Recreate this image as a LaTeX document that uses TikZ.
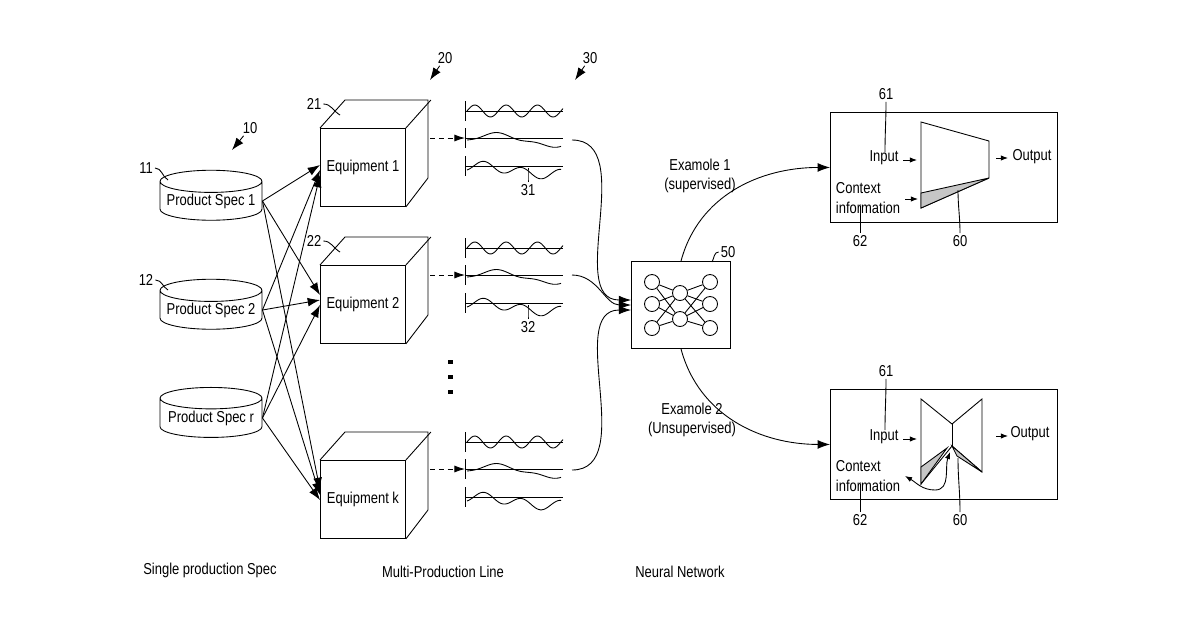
\documentclass[tikz,border=0pt]{standalone}
\usepackage{fontspec}
\setmainfont{Liberation Sans}[FakeStretch=0.82]
\usetikzlibrary{arrows.meta,shapes.geometric}
\begin{document}
\begin{tikzpicture}[x=0.02cm,y=-0.02cm,font=\small,
  line width=0.5pt,
  arr/.style={-{Latex[length=7pt,width=5pt]}},
  darr/.style={densely dashed,-{Latex[length=6pt,width=4pt]}},
  sarr/.style={-{Latex[length=4pt,width=3pt]}},
  lbl/.style={inner sep=1pt},
  cyl/.style={cylinder,shape border rotate=90,draw,aspect=0.25,minimum width=102*0.02cm,minimum height=50*0.02cm,inner sep=0pt},
  neu/.style={circle,draw,minimum size=15*0.02cm,inner sep=0pt},
  shade/.style={fill=gray!45}]
\useasboundingbox (0,0) rectangle (1200,630);
% cylinders
\node[cyl] (s1) at (211,201) {Product Spec 1};
\node[cyl] (s2) at (211,310) {Product Spec 2};
\node[cyl] (s3) at (211,418) {Product Spec r};
\node[lbl] (l11) at (146,168) {11};
\node[lbl] (l12) at (146,280) {12};
\node[lbl] (l10) at (250,128) {10};
\coordinate (a10) at (232,150);
\draw[arr] (l10) -- (a10);
\draw (l11.east) to[out=0,in=150] (168,180);
\draw (l12.east) to[out=0,in=150] (168,290);
% cubes
\foreach \n/\t/\y in {e1/Equipment 1/128, e2/Equipment 2/265, ek/Equipment k/460}{
  \node[draw,minimum width=85*0.02cm,minimum height=78*0.02cm,anchor=north west,inner sep=0pt] (\n) at (320,\y) {\t};
  \draw (\n.north west) -- ++(25,-28) -- ++(83,0) -- ++(0,78) -- (\n.south east);
  \draw (\n.north east) -- ++(25,-28);
}
\node[lbl] (l21) at (314,104) {21};
\node[lbl] (l22) at (314,241) {22};
\draw (l21.east) to[out=0,in=150] (340,115);
\draw (l22.east) to[out=0,in=150] (340,252);
\node[lbl] (l20) at (445,58) {20};
\coordinate (a20) at (430,80);
\draw[arr] (l20) -- (a20);
\node[lbl] (l30) at (590,58) {30};
\coordinate (a30) at (575,80);
\draw[arr] (l30) -- (a30);
\foreach \yy in {360,375,390} \fill (448,\yy) rectangle (453,\yy+4);
% spec -> equipment arrows
\foreach \s/\o in {s1/0,s2/1,s3/2}{
  \foreach \e/\ey in {e1/170,e2/300,ek/495}{
    \coordinate (t) at (320,\ey+\o*5-5);
    \draw[arr] (\s.east) -- (t);
  }
}
% waveforms
\foreach \g/\b in {1/111,2/248,3/442}{
  \coordinate (w\g a) at (465,\b);
  \coordinate (w\g b) at (465,\b+27);
  \coordinate (w\g c) at (465,\b+55);
  \foreach \k in {0,27,55} {\draw (465,\b+\k-10) -- (465,\b+\k+10); \draw (465,\b+\k) -- (563,\b+\k);}
  \draw[smooth,domain=0:96,samples=60] plot ({467+\x},{\b-6*sin(\x*11.5)});
  \draw[smooth,domain=0:94,samples=60] plot ({467+\x},{\b+27+2-6*sin(\x*3.2)+1.5*sin(\x*9)});
  \draw[smooth,domain=0:94,samples=60] plot ({467+\x},{\b+55+4-9*sin(\x*3.5+20)*sin(\x*6)});
}
\coordinate (d1) at (430,138); \coordinate (d2) at (430,275); \coordinate (d3) at (430,469);
\draw[darr] (d1) -- (w1b);
\draw[darr] (d2) -- (w2b);
\draw[darr] (d3) -- (w3b);
\node[lbl] (l31) at (528,190) {31};
\node[lbl] (l32) at (528,327) {32};
\draw (l31.north) to[out=90,in=-90] (528,168);
\draw (l32.north) to[out=90,in=-90] (528,305);
% NN
\node[draw,minimum width=99*0.02cm,minimum height=87*0.02cm,inner sep=0pt] (nn) at (681,305) {};
\foreach \i/\y in {1/282,2/304,3/328}{ \node[neu] (a\i) at (652,\y) {}; \node[neu] (c\i) at (710,\y) {}; }
\node[neu] (b1) at (680,293) {}; \node[neu] (b2) at (680,319) {};
\foreach \i in {1,2,3} \foreach \j in {1,2} {\draw (a\i) -- (b\j); \draw (b\j) -- (c\i);}
\node[lbl] (l50) at (728,252) {50};
\draw (l50.west) to[out=180,in=60] (712,262);
\coordinate (f1) at (572,140); \coordinate (f2) at (572,275); \coordinate (f3) at (572,470);
\draw[arr] (f1) to[out=0,in=180] ([yshift=0.1cm]nn.west);
\draw[arr] (f2) to[out=0,in=180] (nn.west);
\draw[arr] (f3) to[out=0,in=180] ([yshift=-0.1cm]nn.west);
% top box
\node[draw,minimum width=227*0.02cm,minimum height=110*0.02cm,anchor=north west,inner sep=0pt] (bx1) at (830,112) {};
\draw[arr] (nn.north) to[out=75,in=180] (bx1.west);
\node[lbl,align=center] (ex1) at (700,176) {Examole 1\\(supervised)};
\draw (921,122) -- (989,141) -- (989,178) -- (921,208) -- cycle;
\draw[shade] (921,193) -- (989,178) -- (921,208) -- cycle;
\node[lbl] (in1) at (884,158) {Input};
\node[lbl,align=left] (ci1) at (868,198) {Context\\information};
\node[lbl] (ou1) at (1032,157) {Output};
\draw[sarr] (903,160) -- (917,160);
\draw[sarr] (905,199) -- (918,199);
\draw[sarr] (996,158) -- (1008,158);
\node[lbl] (l61a) at (886,94) {61};
\node[lbl] (l62a) at (860,241) {62};
\node[lbl] (l60a) at (960,241) {60};
\draw (l61a.south) to[out=-90,in=90] (885,152);
\draw (l62a.north) -- (860,206);
\draw (l60a.north) to[out=90,in=-90] (958,190);
% bottom box
\node[draw,minimum width=227*0.02cm,minimum height=110*0.02cm,anchor=north west,inner sep=0pt] (bx2) at (830,389) {};
\draw[arr] (nn.south) to[out=-75,in=180] (bx2.west);
\node[lbl,align=center] (ex2) at (692,420) {Examole 2\\(Unsupervised)};
\draw (921,399) -- (952,424) -- (982,399) -- (982,472) -- (952,446) -- (921,484) -- cycle;
\draw (952,424) -- (952,446);
\draw[shade] (921,467) -- (947,448) -- (921,484) -- cycle;
\draw[shade] (952,446) -- (982,472) -- (957,456) -- cycle;
\node[lbl] (in2) at (884,437) {Input};
\node[lbl,align=left] (ci2) at (868,476) {Context\\information};
\node[lbl] (ou2) at (1030,434) {Output};
\draw[sarr] (903,439) -- (917,439);
\draw[sarr] (996,436) -- (1008,436);
\coordinate (cs) at (950,452);
\coordinate (ce) at (905,476);
\draw[{Latex[length=4pt,width=3pt]}-{Latex[length=4pt,width=3pt]}] (ce) to[out=-30,in=180] (935,490) to[out=0,in=-110] (cs);
\node[lbl] (l61b) at (886,371) {61};
\node[lbl] (l62b) at (860,520) {62};
\node[lbl] (l60b) at (960,520) {60};
\draw (l61b.south) to[out=-90,in=90] (885,430);
\draw (l62b.north) -- (860,484);
\draw (l60b.north) to[out=90,in=-90] (958,458);
% bottom labels
\node (t1) at (210,570) {Single production Spec};
\node (t2) at (443,572) {Multi-Production Line};
\node (t3) at (680,572) {Neural Network};
\end{tikzpicture}
\end{document}
